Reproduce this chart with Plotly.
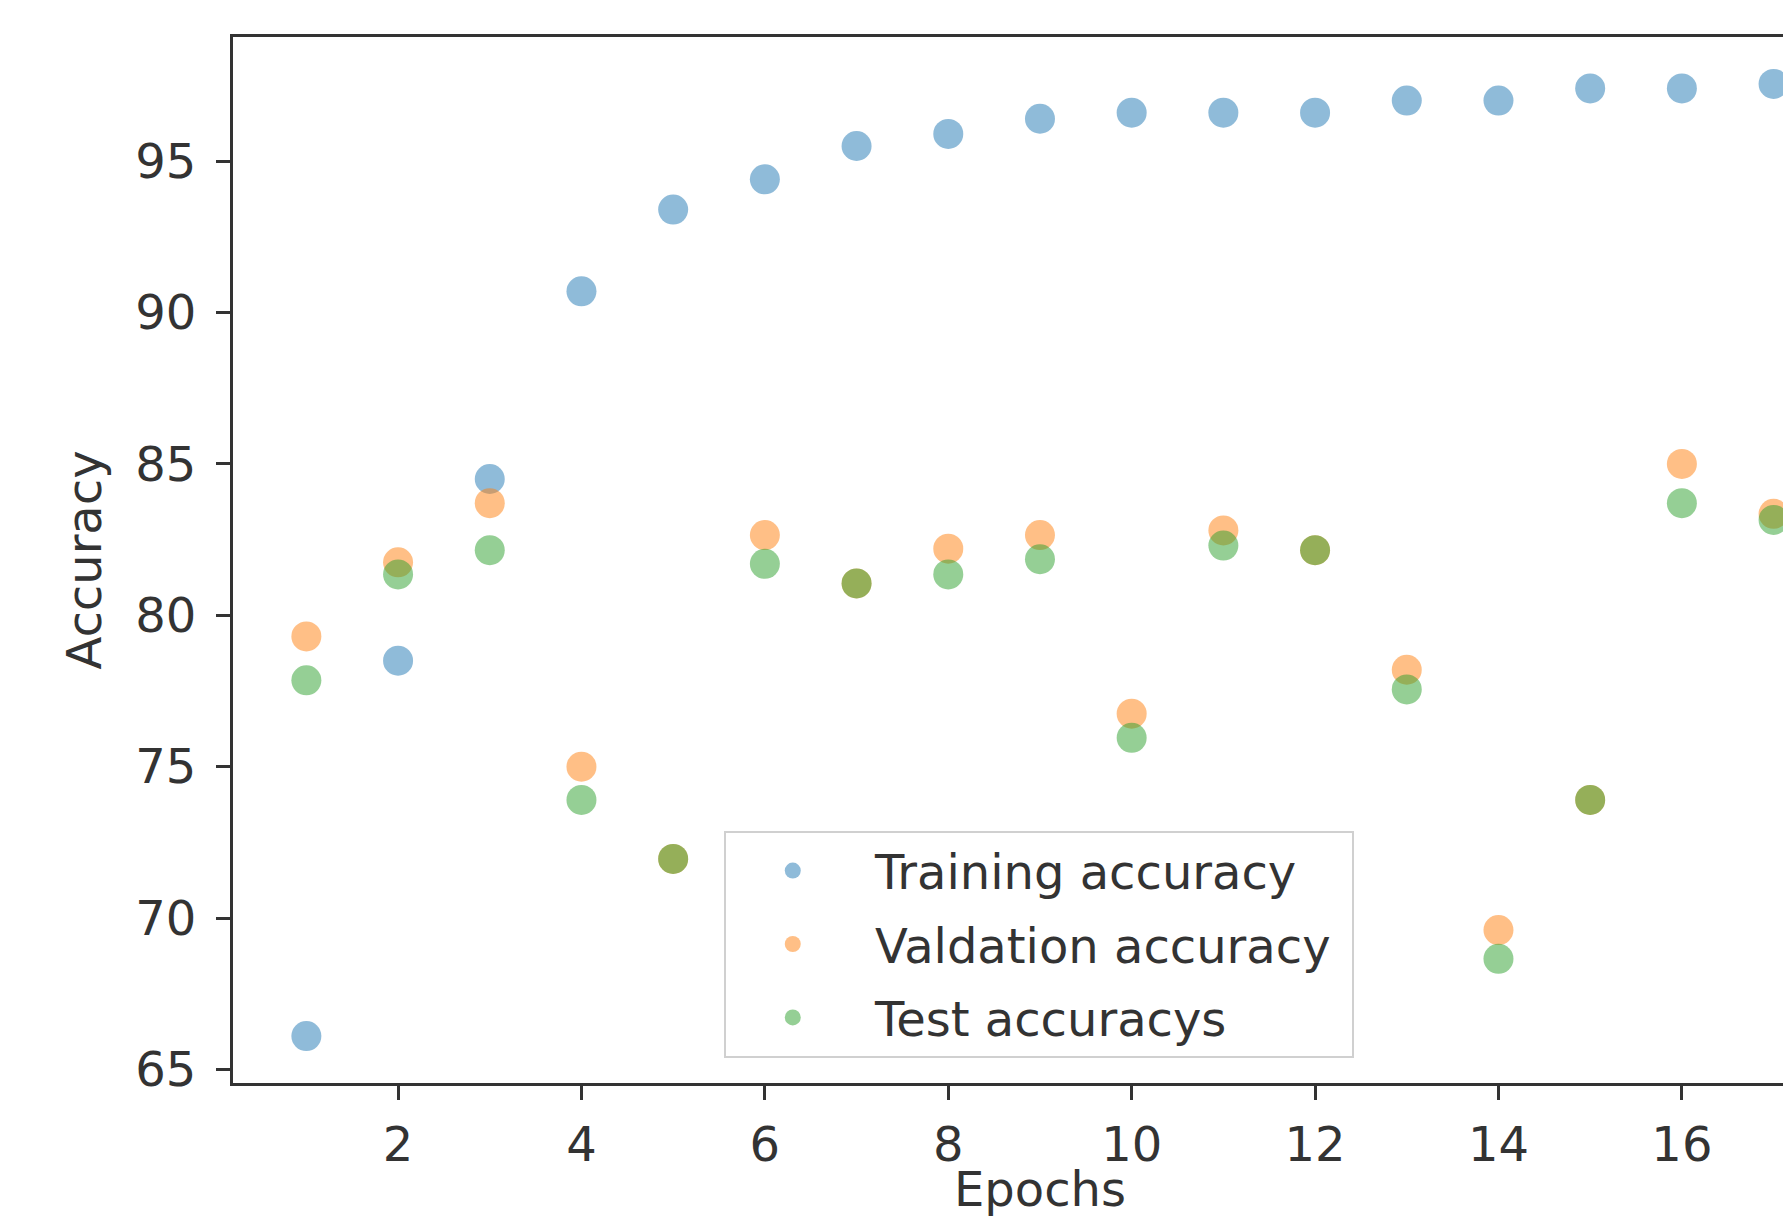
import plotly.graph_objects as go

epochs = list(range(1, 18))
training_acc = [66.1, 78.5, 84.5, 90.7, 93.4, 94.4, 95.5, 95.9, 96.4, 96.6, 96.6, 96.6, 97.0, 97.0, 97.4, 97.4, 97.55]
validation_acc = [79.3, 81.75, 83.7, 75.0, 71.95, 82.65, 81.05, 82.2, 82.65, 76.75, 82.8, 82.15, 78.2, 69.6, 73.9, 85.0, 83.35]
test_acc = [77.85, 81.35, 82.15, 73.9, 71.95, 81.7, 81.05, 81.35, 81.85, 75.95, 82.3, 82.15, 77.55, 68.65, 73.9, 83.7, 83.15]

names = ["\u00a0Training accuracy\u00a0", "\u00a0Valdation accuracy\u00a0", "\u00a0Test accuracys\u00a0"]
colors = ["#1f77b4", "#ff7f0e", "#2ca02c"]
series = [training_acc, validation_acc, test_acc]
x_title = "Epochs"
y_title = "Accuracy"

FONT = "DejaVu Sans"
fig = go.Figure()
for i, (nm, c, s) in enumerate(zip(names, colors, series)):
    fig.add_trace(go.Scatter(
        x=epochs, y=s, mode="markers", name=nm, legendgroup=f"g{i}",
        marker=dict(color=c, size=30, opacity=0.5, line=dict(width=0)),
    ))

# x-axis title centred on the full (cropped) axis span, as in the reference
full_span_center = (min(epochs) + max(epochs)) / 2
fig.add_annotation(
    text=x_title, xref="x", x=full_span_center, yref="paper", y=0,
    yanchor="middle", yshift=-106, showarrow=False,
    font=dict(family=FONT, size=48, color="#333333"),
)

fig.update_layout(
    width=1783, height=1213,
    margin=dict(l=225, r=0, t=29, b=138, autoexpand=False),
    paper_bgcolor="white", plot_bgcolor="white",
    font=dict(family=FONT, size=48, color="#333333"),
    showlegend=True,
    legend=dict(
        x=0.315, y=0.241, xanchor="left", yanchor="top",
        bgcolor="rgba(255,255,255,0.8)", bordercolor="#d0d0d0", borderwidth=2,
        font=dict(family=FONT, size=48, color="#333333"),
        tracegroupgap=8, itemsizing="trace", itemwidth=124,
    ),
    xaxis=dict(
        range=[0.2, 17.19], tickmode="array", tickvals=[2, 4, 6, 8, 10, 12, 14, 16],
        automargin=False,
        showgrid=False, zeroline=False, showline=True, linecolor="#333333", linewidth=3,
        mirror=True, ticks="outside", ticklen=14, tickwidth=2.5, tickcolor="#333333",
        ticklabelstandoff=3,
    ),
    yaxis=dict(
        range=[64.55, 99.1], tickmode="array", tickvals=[65, 70, 75, 80, 85, 90, 95],
        automargin=True,
        showgrid=False, zeroline=False, showline=True, linecolor="#333333", linewidth=3,
        ticks="outside", ticklen=14, tickwidth=2.5, tickcolor="#333333",
        ticklabelstandoff=10,
        title=dict(text=y_title, standoff=19, font=dict(family=FONT, size=48)),
    ),
)

fig.write_html("out.html")
